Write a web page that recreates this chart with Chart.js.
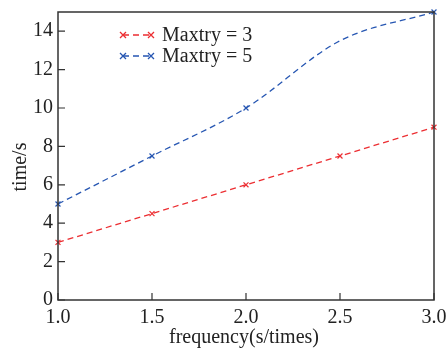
<!DOCTYPE html>
<html>
<head>
<meta charset="utf-8">
<script src="https://cdn.jsdelivr.net/npm/chart.js@4.4.1/dist/chart.umd.min.js"></script>
<style>
  html, body { margin: 0; padding: 0; background: #fff; }
  #wrap { width: 446px; height: 349px; }
</style>
</head>
<body>
<div id="wrap"><canvas id="c" width="446" height="349"></canvas></div>
<script>
// data
const frequency = [1.0, 1.5, 2.0, 2.5, 3.0];
const maxtry3 = [3, 4.5, 6, 7.5, 9];
const maxtry5 = [5, 7.5, 10, 13.5, 15];
const seriesLabels = ['Maxtry = 3', 'Maxtry = 5'];
const yTicks = [0, 2, 4, 6, 8, 10, 12, 14];
const xTitle = 'frequency(s/times)';
const yTitle = 'time/s';

const RED = 'rgb(236, 46, 50)';
const BLUE = 'rgb(38, 86, 178)';
const AXIS = '#333333';
const TEXT = '#222222';
const FONT = '"Liberation Serif", serif';

const toPoints = (ys) => frequency.map((x, i) => ({ x, y: ys[i] }));

// frame, inward ticks, axis titles and the legend inside the plot
const framePlugin = {
    id: 'frame',
    afterDatasetsDraw(chart) {
        const { ctx, chartArea: a, scales } = chart;
        const font = Chart.helpers.toFont({ family: FONT, size: 20 }).string;
        ctx.save();
        ctx.strokeStyle = AXIS;
        ctx.lineWidth = 1.5;
        ctx.strokeRect(a.left, a.top, a.right - a.left, a.bottom - a.top);
        ctx.lineWidth = 1.2;
        ctx.beginPath();
        scales.x.ticks.forEach(t => {
            const px = scales.x.getPixelForValue(t.value);
            ctx.moveTo(px, a.bottom);
            ctx.lineTo(px, a.bottom - 7);
        });
        scales.y.ticks.forEach(t => {
            const py = scales.y.getPixelForValue(t.value);
            ctx.moveTo(a.left, py);
            ctx.lineTo(a.left + 7, py);
        });
        ctx.stroke();

        // axis titles
        ctx.fillStyle = TEXT;
        ctx.font = font;
        ctx.textAlign = 'center';
        ctx.textBaseline = 'alphabetic';
        ctx.fillText(xTitle, 244, 343);
        ctx.save();
        ctx.translate(26, 167);
        ctx.rotate(-Math.PI / 2);
        ctx.fillText(yTitle, 0, 0);
        ctx.restore();

        // legend
        const rows = [35, 56];
        chart.data.datasets.forEach((ds, i) => {
            const y = rows[i];
            ctx.strokeStyle = ds.borderColor;
            ctx.lineWidth = 1.3;
            ctx.setLineDash([6, 4]);
            ctx.beginPath();
            ctx.moveTo(123, y);
            ctx.lineTo(151, y);
            ctx.stroke();
            ctx.setLineDash([]);
            [123, 151].forEach(mx => {
                ctx.beginPath();
                ctx.moveTo(mx - 3, y - 3); ctx.lineTo(mx + 3, y + 3);
                ctx.moveTo(mx - 3, y + 3); ctx.lineTo(mx + 3, y - 3);
                ctx.stroke();
            });
            ctx.fillStyle = TEXT;
            ctx.font = font;
            ctx.textAlign = 'left';
            ctx.textBaseline = 'middle';
            ctx.fillText(ds.label, 162, y + 1);
        });
        ctx.restore();
    }
};

new Chart(document.getElementById('c'), {
    type: 'line',
    data: {
        datasets: [
            {
                label: seriesLabels[0],
                data: toPoints(maxtry3),
                borderColor: RED,
                backgroundColor: RED,
                borderWidth: 1.3,
                borderDash: [6, 4],
                pointStyle: 'crossRot',
                pointRadius: 3.5,
                pointBorderWidth: 1.2,
                tension: 0
            },
            {
                label: seriesLabels[1],
                data: toPoints(maxtry5),
                borderColor: BLUE,
                backgroundColor: BLUE,
                borderWidth: 1.3,
                borderDash: [6, 4],
                pointStyle: 'crossRot',
                pointRadius: [3.5, 3.5, 3.5, 0, 3.5],
                pointBorderWidth: 1.2,
                cubicInterpolationMode: 'monotone'
            }
        ]
    },
    options: {
        responsive: false,
        animation: false,
        clip: false,
        layout: { padding: { top: 12, right: 12, left: 0, bottom: 0 } },
        plugins: { legend: { display: false }, tooltip: { enabled: false } },
        scales: {
            x: {
                type: 'linear',
                min: 1, max: 3,
                border: { display: false },
                grid: { display: false, drawTicks: false },
                ticks: {
                    stepSize: 0.5,
                    padding: 6,
                    color: TEXT,
                    font: { family: FONT, size: 20 },
                    maxRotation: 0,
                    callback: v => v.toFixed(1)
                },
                afterFit: s => { s.height = 49; s.paddingLeft = 0; s.paddingRight = 0; }
            },
            y: {
                min: 0, max: 15,
                border: { display: false },
                grid: { display: false, drawTicks: false },
                afterBuildTicks: s => { s.ticks = yTicks.map(v => ({ value: v })); },
                ticks: {
                    padding: 5,
                    color: TEXT,
                    font: { family: FONT, size: 20 }
                },
                afterFit: s => { s.width = 58; s.paddingTop = 0; s.paddingBottom = 0; }
            }
        }
    },
    plugins: [framePlugin]
});
</script>
</body>
</html>
